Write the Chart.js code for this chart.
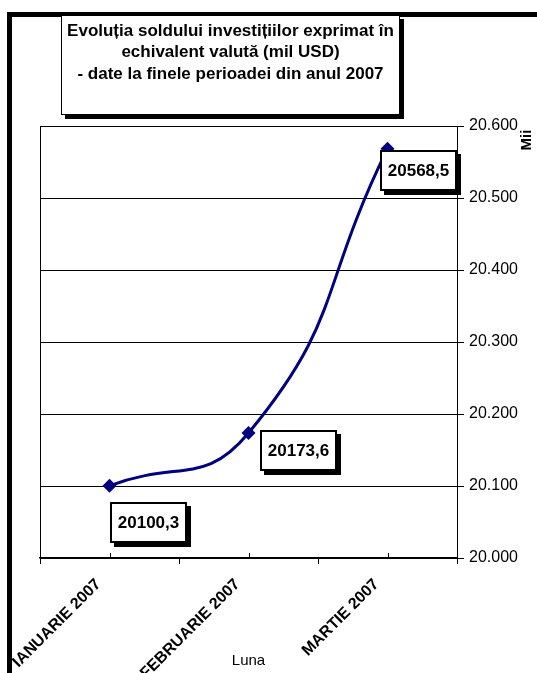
<!DOCTYPE html>
<html>
<head>
<meta charset="utf-8">
<script src="https://cdn.jsdelivr.net/npm/chart.js@4"></script>
<style>
  body { margin: 0; background: #fff; }
  #wrap { width: 537px; height: 673px; }
</style>
</head>
<body>
<div id="wrap"><canvas id="chart" width="537" height="673"></canvas></div>
<script>
const FONT = "'Liberation Sans', Arial, sans-serif";

// chart data
const months = ['IANUARIE 2007', 'FEBRUARIE 2007', 'MARTIE 2007'];
const balances = [20100.3, 20173.6, 20568.5];
const titleLines = [
    'Evoluția soldului investițiilor exprimat în',
    'echivalent valută (mil USD)',
    '- date la finele perioadei din anul 2007'
];
const yTicks = { min: 20000, max: 20600, step: 100 };

// where each value label box sits relative to its point (dx, dy)
const labelOffsets = [[39, 37], [50, 17], [31, 22]];

// 20600 -> "20.600"
function fmtThousands(v) {
    return String(Math.round(v)).replace(/\B(?=(\d{3})+(?!\d))/g, '.');
}
// 20100.3 -> "20100,3"
function fmtValue(v) {
    return v.toFixed(1).replace('.', ',');
}

function shadowBox(ctx, x, y, w, h, border, shadow) {
    ctx.fillStyle = '#000';
    ctx.fillRect(x + shadow, y + shadow, w, h);
    ctx.fillStyle = '#fff';
    ctx.fillRect(x, y, w, h);
    ctx.strokeStyle = '#000';
    ctx.lineWidth = border;
    ctx.strokeRect(x + border / 2, y + border / 2, w - border, h - border);
}

const decorations = {
    id: 'decorations',
    beforeDraw(chart) {
        const ctx = chart.ctx;
        ctx.save();
        ctx.fillStyle = '#fff';
        ctx.fillRect(0, 0, chart.width, chart.height);
        // heavy outer frame (only left and top are inside the picture)
        ctx.strokeStyle = '#000';
        ctx.lineWidth = 5;
        ctx.strokeRect(9.5, 14.5, chart.width + 40, chart.height + 40);
        ctx.restore();
    },
    afterDatasetsDraw(chart) {
        const ctx = chart.ctx;
        const area = chart.chartArea;
        const xs = chart.scales.x;
        ctx.save();

        // plot area border (left / top)
        ctx.strokeStyle = '#000';
        ctx.lineWidth = 1;
        ctx.beginPath();
        ctx.moveTo(area.left + 0.5, area.bottom + 5);
        ctx.lineTo(area.left + 0.5, area.top + 0.5);
        ctx.lineTo(area.right, area.top + 0.5);
        ctx.stroke();

        // small upward ticks at the category centres
        ctx.beginPath();
        months.forEach((m, i) => {
            const px = Math.round(xs.getPixelForValue(i)) + 0.5;
            ctx.moveTo(px, area.bottom);
            ctx.lineTo(px, area.bottom - 5);
        });
        ctx.stroke();

        // value labels
        const meta = chart.getDatasetMeta(0);
        ctx.font = 'bold 17px ' + FONT;
        ctx.textAlign = 'center';
        ctx.textBaseline = 'middle';
        meta.data.forEach((pt, i) => {
            const txt = fmtValue(balances[i]);
            const cx = pt.x + labelOffsets[i][0];
            const cy = pt.y + labelOffsets[i][1];
            const w = ctx.measureText(txt).width + 16;
            const h = 41;
            shadowBox(ctx, Math.round(cx - w / 2), Math.round(cy - h / 2), Math.round(w), h, 2, 4);
            ctx.fillStyle = '#000';
            ctx.fillText(txt, cx, cy + 1);
        });

        // title box
        shadowBox(ctx, 61, 15, 339, 100, 1, 4);
        ctx.fillStyle = '#000';
        ctx.font = 'bold 17px ' + FONT;
        titleLines.forEach((line, i) => {
            ctx.fillText(line, 230.5, 31 + i * 21.5);
        });

        // secondary axis title
        ctx.save();
        ctx.translate(527, 140);
        ctx.rotate(-Math.PI / 2);
        ctx.font = 'bold 15px ' + FONT;
        ctx.fillText('Mii', 0, 0);
        ctx.restore();

        ctx.restore();
    }
};

new Chart(document.getElementById('chart'), {
    type: 'line',
    data: {
        labels: months,
        datasets: [{
            data: balances,
            borderColor: '#000080',
            borderWidth: 3,
            tension: 0.5,
            pointStyle: 'rectRot',
            pointRadius: 7,
            pointBackgroundColor: '#000080',
            pointBorderColor: '#000080',
            pointBorderWidth: 0,
            clip: false
        }]
    },
    options: {
        responsive: false,
        animation: false,
        devicePixelRatio: 1,
        layout: { padding: { left: 40, top: 126, right: 0, bottom: 0 } },
        plugins: {
            legend: { display: false },
            title: { display: false },
            tooltip: { enabled: false }
        },
        scales: {
            x: {
                type: 'category',
                offset: true,
                grid: {
                    offset: true,
                    drawOnChartArea: false,
                    tickLength: 6,
                    color: '#000'
                },
                border: { display: true, color: '#000', width: 1.5 },
                ticks: {
                    minRotation: 45,
                    maxRotation: 45,
                    autoSkip: false,
                    padding: 11,
                    labelOffset: -11,
                    color: '#000',
                    font: { family: FONT, size: 16, weight: 'bold' }
                },
                title: {
                    display: true,
                    text: 'Luna',
                    color: '#000',
                    font: { family: FONT, size: 15 },
                    padding: { top: 0, bottom: 3 }
                },
                afterFit: (s) => { s.height = 673 - 558; }
            },
            y: {
                position: 'right',
                min: yTicks.min,
                max: yTicks.max,
                grid: { color: '#000', tickLength: 7 },
                border: { display: true, color: '#000' },
                ticks: {
                    stepSize: yTicks.step,
                    padding: 5,
                    color: '#000',
                    font: { family: FONT, size: 16 },
                    callback: (v) => fmtThousands(v)
                },
                afterFit: (s) => { s.width = 537 - 457; }
            }
        }
    },
    plugins: [decorations]
});
</script>
</body>
</html>
